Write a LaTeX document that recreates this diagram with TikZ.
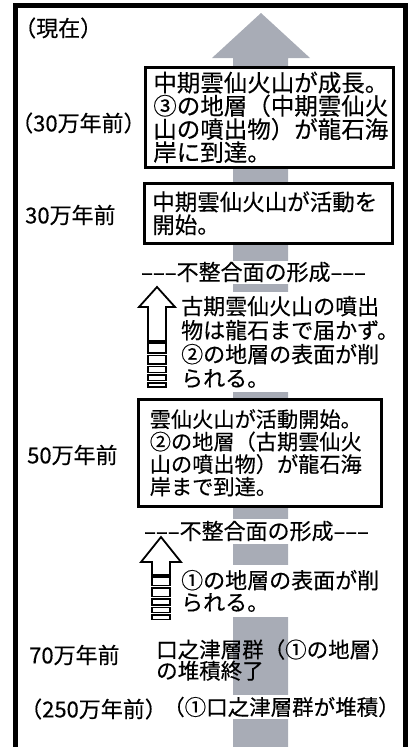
\documentclass[tikz,border=0pt]{standalone}
\usepackage{fontspec}
\setmainfont{Noto Sans CJK JP}[FakeBold=0.35]
\definecolor{arrowgray}{RGB}{168,172,182}
\begin{document}
\begin{tikzpicture}[x=1pt,y=-1pt,
  lbl/.style={inner sep=0pt, anchor=west, font=\fontsize{22}{22}\selectfont},
  txt/.style={inner sep=0pt, anchor=west, align=left},
  mask/.style={fill=white},
  box/.style={draw, line width=2.6pt, fill=white, align=left, anchor=north west, inner ysep=0pt},
  icon/.style={draw, line width=1.8pt, fill=white, line join=miter},
  frame/.style={line width=5pt}]
\useasboundingbox (0,0) rectangle (414,747);
% big gray arrow
\fill[arrowgray] (233,750) -- (233,58) -- (212,58) -- (261,13) -- (310,58) -- (288,58) -- (288,750) -- cycle;
% left labels
\node[lbl] (now) at (14,28) {（現在）};
\node[lbl] (t30p) at (11,123) {（30万年前）};
\node[lbl] (t30) at (25,215) {30万年前};
\node[lbl] (t50) at (27,455) {50万年前};
\node[lbl] (t70) at (29,655) {70万年前};
\node[lbl] (t250) at (20,709) {（250万年前）};
% boxes
\node[box, minimum width=248pt, minimum height=100pt, text width=232pt, inner xsep=8pt,
  font=\fontsize{23.5}{22}\selectfont] (b1) at (144,66)
  {中期雲仙火山が成長。\\③の地層（中期雲仙火\\山の噴出物）が龍石海\\岸に到達。};
\node[box, minimum width=248pt, minimum height=60pt, text width=232pt, inner xsep=8pt,
  font=\fontsize{22.5}{23}\selectfont] (b2) at (143,182)
  {中期雲仙火山が活動を\\開始。};
\node[box, minimum width=243pt, minimum height=107pt, text width=220pt, inner xsep=11.5pt,
  font=\fontsize{21.2}{22.5}\selectfont] (b3) at (137,398)
  {雲仙火山が活動開始。\\②の地層（古期雲仙火\\山の噴出物）が龍石海\\岸まで到達。};
% unconformity texts
\node[txt, mask, minimum height=23pt, font=\fontsize{22}{22}\selectfont] (u1) at (141,272)
  {–––不整合面の形成–––};
\node[txt, mask, minimum height=25pt, font=\fontsize{22}{22}\selectfont] (u2) at (144,531)
  {–––不整合面の形成–––};
% erosion texts
\node[txt, mask, inner ysep=4pt, font=\fontsize{22}{24}\selectfont] (k1) at (181,342)
  {古期雲仙火山の噴出\\物は龍石まで届かず。\\②の地層の表面が削\\られる。};
\node[txt, mask, inner ysep=5pt, font=\fontsize{22}{22}\selectfont] (e1) at (181,591)
  {①の地層の表面が削\\られる。};
% bottom texts
\node[txt, font=\fontsize{21.5}{20}\selectfont] (kt) at (156,660)
  {口之津層群（①の地層）\\の堆積終了};
\node[txt, mask, minimum height=24pt, font=\fontsize{21.5}{22}\selectfont] (kd) at (163,707)
  {（①口之津層群が堆積）};
% hollow arrow icons
\draw[icon] (148,341) -- (148,307) -- (139,307) -- (157,287) -- (175,307) -- (166,307) -- (166,341) -- cycle;
\foreach \a/\b in {343/353, 355.5/364, 366.5/372.5, 375/380.5, 383/387}
  \draw[icon] (148,\a) rectangle (166,\b);
\draw[icon] (152,575) -- (152,562) -- (141,562) -- (161,537) -- (181,562) -- (170,562) -- (170,575) -- cycle;
\foreach \a/\b in {577/585.5, 588/596.5, 599/605, 607.5/612.5, 615/619.5}
  \draw[icon] (152,\a) rectangle (170,\b);
% frame
\draw[frame] (15.5,750) -- (15.5,5.5) -- (405,5.5) -- (405,750);
\end{tikzpicture}
\end{document}
